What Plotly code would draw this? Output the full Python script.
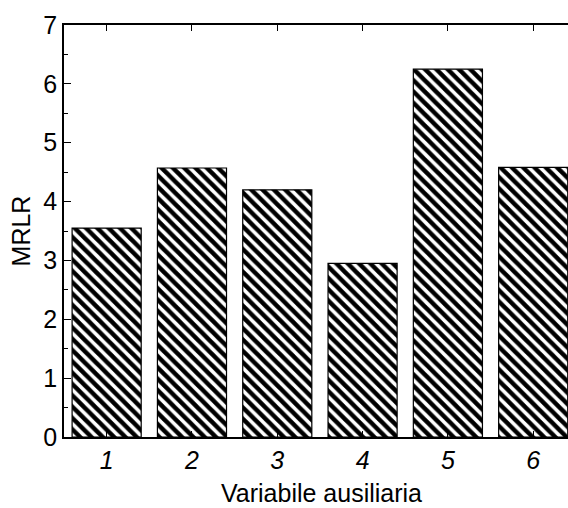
import plotly.graph_objects as go

categories = ["1", "2", "3", "4", "5", "6"]
positions = [1, 2, 3, 4, 5, 6]
mrlr = [3.55, 4.57, 4.20, 2.95, 6.25, 4.58]
y_ticks = [0, 1, 2, 3, 4, 5, 6, 7]

font_family = "Liberation Sans, Arial, sans-serif"

fig = go.Figure(go.Bar(
    x=positions, y=mrlr,
    marker=dict(color="white",
                line=dict(color="black", width=1.2),
                pattern=dict(shape="\\", fgcolor="black", bgcolor="white",
                             fgopacity=1, size=8, solidity=0.56)),
    width=0.81,
))

fig.update_layout(
    width=568, height=508,
    margin=dict(l=64, r=0, t=25, b=71),
    plot_bgcolor="white", paper_bgcolor="white",
    showlegend=False,
    font=dict(family=font_family, color="black"),
    annotations=[dict(text="Variabile ausiliaria", xref="paper", yref="paper",
                      x=(321 - 64) / 504, y=-0.135, xanchor="center", yanchor="middle",
                      showarrow=False, font=dict(size=25))],
)
fig.update_xaxes(
    range=[0.5, 6.408],
    tickmode="array", tickvals=positions, ticktext=categories,
    tickfont=dict(size=25, style="italic", family=font_family),
    ticks="inside", ticklen=6, tickwidth=1, tickcolor="black",
    showline=True, linecolor="black", linewidth=1.5, mirror="ticks",
    showgrid=False, zeroline=False,
)
fig.update_yaxes(
    range=[0, 7],
    tickmode="array", tickvals=y_ticks,
    tickfont=dict(size=25),
    ticks="inside", ticklen=7, tickwidth=1, tickcolor="black",
    minor=dict(dtick=0.5, ticks="inside", ticklen=4, tickcolor="black", tickwidth=1),
    showline=True, linecolor="black", linewidth=1.5, mirror=False,
    showgrid=False, zeroline=False,
    title=dict(text="MRLR", font=dict(size=25), standoff=6),
)

fig.write_html("out.html")
